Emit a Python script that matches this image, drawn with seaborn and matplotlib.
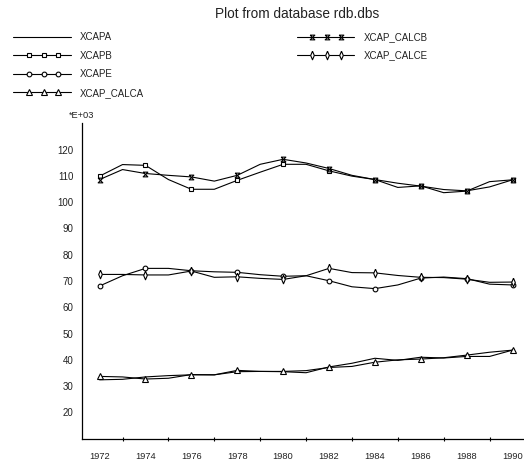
import numpy as np
import pandas as pd
import matplotlib
matplotlib.use("Agg")
import matplotlib.pyplot as plt
from matplotlib.lines import Line2D
from matplotlib.legend_handler import HandlerLine2D
from matplotlib.ticker import MultipleLocator
import seaborn as sns

years = list(range(1972, 1991))

xcapa = [32.4, 32.6, 33.5, 34.0, 34.3, 34.3, 35.5, 35.6, 35.5, 35.1, 37.3, 38.7,
         40.6, 39.8, 41.0, 40.7, 41.3, 41.3, 43.7]
xcapb = [109.9, 114.3, 114.0, 108.6, 104.9, 104.9, 108.3, 111.4, 114.4, 114.4, 111.9, 109.9,
         108.6, 105.6, 106.2, 103.6, 104.2, 107.8, 108.5]
xcape = [68.1, 72.0, 74.8, 74.8, 73.9, 73.5, 73.3, 72.4, 71.8, 72.0, 70.1, 67.8,
         67.1, 68.5, 71.1, 71.5, 70.9, 68.8, 68.5]
xcap_calca = [33.7, 33.5, 32.7, 33.0, 34.4, 34.3, 36.0, 35.6, 35.6, 35.9, 37.1, 37.5,
              39.1, 40.0, 40.3, 40.8, 41.8, 42.9, 43.7]
xcap_calcb = [108.6, 112.4, 110.9, 110.2, 109.6, 108.0, 110.2, 114.4, 116.3, 114.9, 112.8, 110.2,
              108.6, 107.2, 106.1, 104.8, 104.3, 105.8, 108.5]
xcap_calce = [72.5, 72.5, 72.3, 72.3, 73.8, 71.4, 71.6, 71.0, 70.6, 72.0, 74.8, 73.2,
              73.1, 72.1, 71.4, 71.3, 70.7, 69.5, 69.6]

series_names = ["XCAPA", "XCAPB", "XCAPE", "XCAP_CALCA", "XCAP_CALCB", "XCAP_CALCE"]
series_vals = [xcapa, xcapb, xcape, xcap_calca, xcap_calcb, xcap_calce]
y_ticks = [20, 30, 40, 50, 60, 70, 80, 90, 100, 110, 120]
x_ticks = list(range(1972, 1991, 2))

hourglass = [(-1, 1), (1, 1), (-1, -1), (1, -1), (-1, 1)]
thin_diamond = [(0, 1), (0.42, 0), (0, -1), (-0.42, 0), (0, 1)]
styles = {
    "XCAPA": dict(marker=None, ms=0),
    "XCAPB": dict(marker="s", ms=3.2),
    "XCAPE": dict(marker="o", ms=3.4),
    "XCAP_CALCA": dict(marker="^", ms=3.8),
    "XCAP_CALCB": dict(marker=hourglass, ms=3.4),
    "XCAP_CALCE": dict(marker=thin_diamond, ms=6.2),
}

sns.set_style("white")
plt.rcParams["font.family"] = ["Liberation Sans", "DejaVu Sans"]

W, H = 524, 466
fig = plt.figure(figsize=(W / 100, H / 100), dpi=100)
ax = fig.add_axes([81.7 / W, 27.3 / H, (W - 81.7) / W, (438.7 - 123.3) / H])

handles = {}
for name, vals in zip(series_names, series_vals):
    df = pd.DataFrame({"year": years, "value": vals})
    st = styles[name]
    kw = dict(color="black", linewidth=0.8)
    if st["marker"] is not None:
        kw.update(marker=st["marker"], markersize=st["ms"], markevery=2,
                  markerfacecolor="white", markeredgecolor="black", markeredgewidth=0.8)
    n_before = len(ax.get_lines())
    sns.lineplot(data=df, x="year", y="value", ax=ax, legend=False, **kw)
    handles[name] = ax.get_lines()[n_before]

ax.set_xlim(1971.22, 1990.5)
ax.set_ylim(10, 130)
ax.set_xticks(x_ticks)
ax.set_xticklabels([str(x) for x in x_ticks])
ax.xaxis.set_minor_locator(MultipleLocator(1))
ax.set_yticks(y_ticks)
ax.set_yticklabels([str(y) for y in y_ticks])
ax.set_xlabel("")
ax.set_ylabel("")
for s in ["top", "right"]:
    ax.spines[s].set_visible(False)
for s in ["left", "bottom"]:
    ax.spines[s].set_linewidth(0.9)
    ax.spines[s].set_color("black")
ax.tick_params(axis="x", which="major", direction="inout", length=8.5, width=0.9,
               labelsize=6.7, pad=5.5, colors="black", labelcolor="#222222")
ax.tick_params(axis="x", which="minor", direction="inout", length=3, width=0.8,
               bottom=True, color="black")
ax.tick_params(axis="y", which="major", direction="inout", length=5.5, width=0.9,
               labelsize=7, pad=3, colors="black", labelcolor="#222222")
ax.set_facecolor("white")

ax.text(0, 1.0 + 7.6 / (438.7 - 123.3), "*E+03", transform=ax.transAxes,
        ha="center", va="center", fontsize=6.7, color="#222222")

fig.text(296.7 / W, 1 - 14 / H, "Plot from database rdb.dbs", ha="center", va="center",
         fontsize=9.8, color="#222222")


class SpacedMarkerHandler(HandlerLine2D):
    fracs = [0.0, 0.274, 0.53, 0.78, 1.0]

    def create_artists(self, legend, orig_handle, xdescent, ydescent, width, height,
                       fontsize, trans):
        x0 = -xdescent
        xdata = np.array([x0 + f * width for f in self.fracs])
        ydata = np.full_like(xdata, (height - ydescent) / 2)
        legline = Line2D(xdata, ydata)
        self.update_prop(legline, orig_handle, legend)
        legline.set_markevery([1, 2, 3])
        legline.set_transform(trans)
        return [legline]


hmap = {Line2D: SpacedMarkerHandler()}
leg_fs = 7
leg_kw = dict(frameon=False, fontsize=leg_fs, handlelength=57.4 / (leg_fs * 100 / 72),
              handletextpad=9.3 / (leg_fs * 100 / 72), labelspacing=0.88, borderpad=0,
              borderaxespad=0, loc="upper left", handler_map=hmap)
col1 = ["XCAPA", "XCAPB", "XCAPE", "XCAP_CALCA"]
col2 = ["XCAP_CALCB", "XCAP_CALCE"]
leg1 = fig.legend([handles[n] for n in col1], col1,
                  bbox_to_anchor=(13.3 / W, 1 - 32.0 / H), **leg_kw)
leg2 = fig.legend([handles[n] for n in col2], col2,
                  bbox_to_anchor=(296.7 / W, 1 - 32.0 / H), **leg_kw)
for lg in (leg1, leg2):
    for t in lg.get_texts():
        t.set_color("#222222")

fig.savefig("out.png", dpi=100, facecolor="white")
